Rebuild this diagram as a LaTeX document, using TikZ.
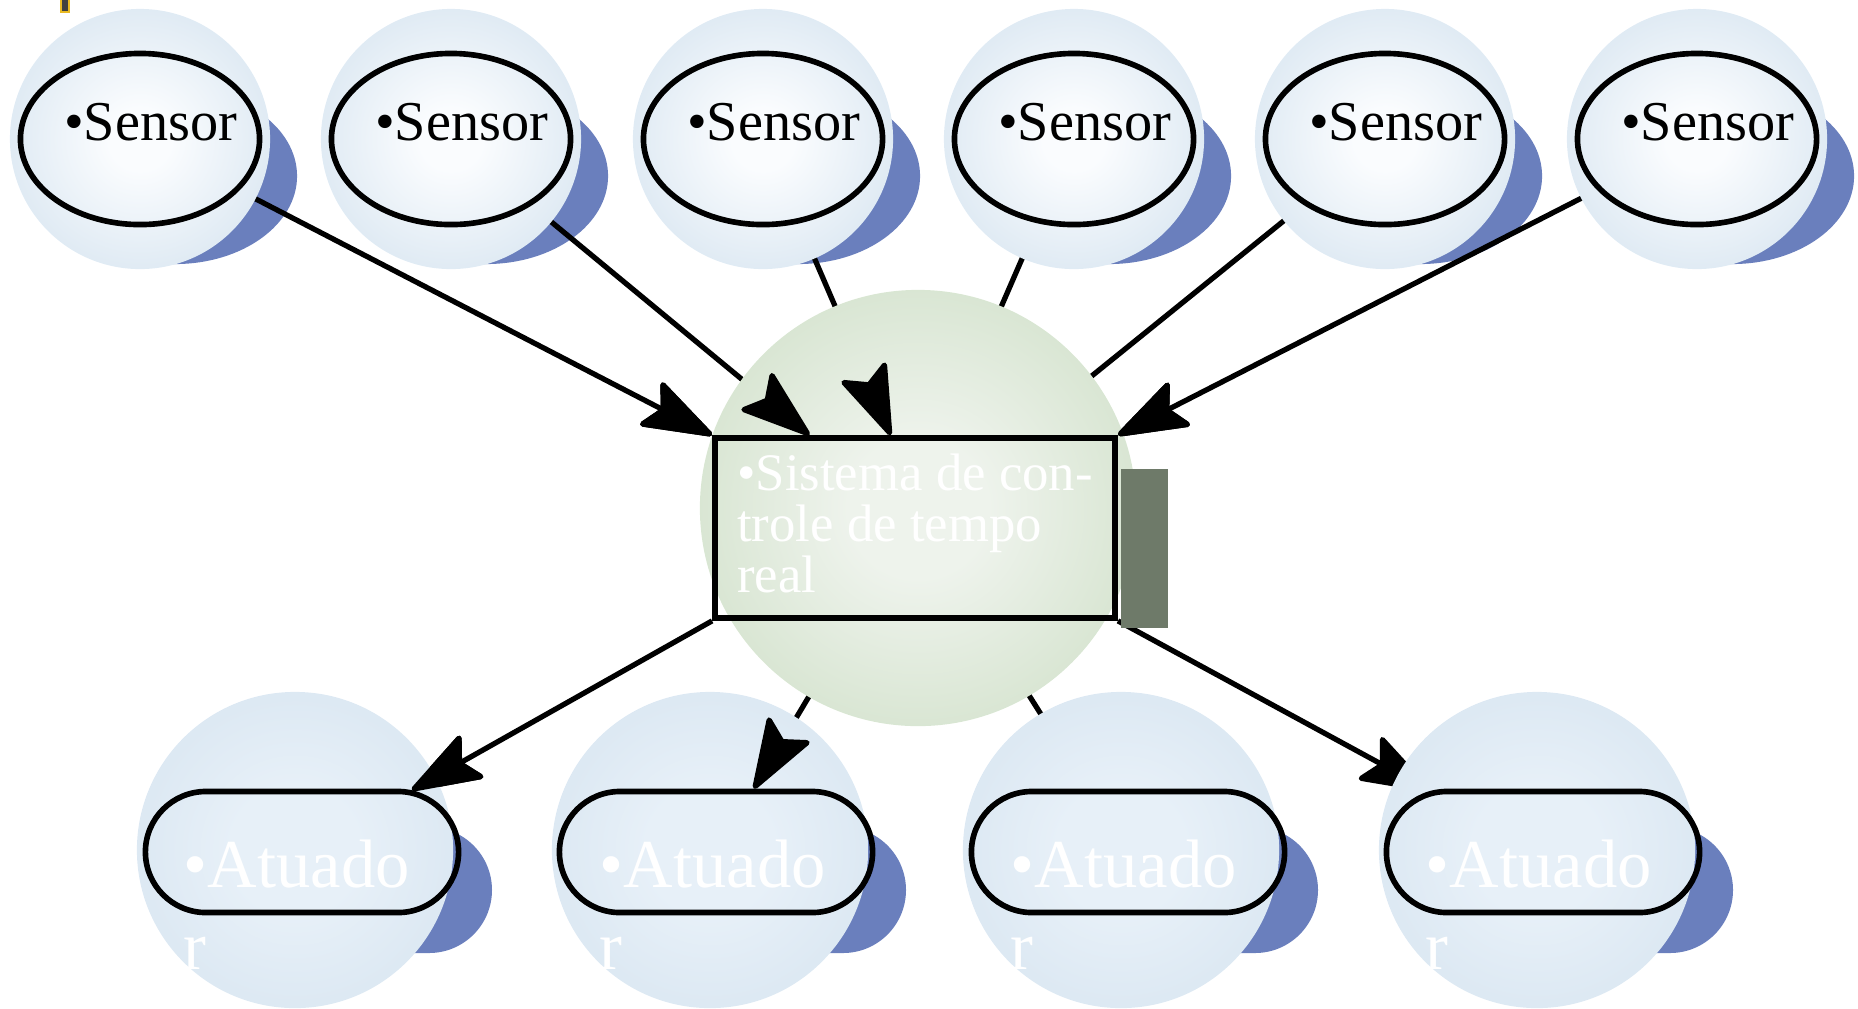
\documentclass[tikz,border=0pt]{standalone}
\usepackage{fontspec}
\setmainfont{Liberation Serif}
\usetikzlibrary{shapes.geometric,shapes.misc,arrows.meta,calc}

\definecolor{ballout}{HTML}{D9E6F1}
\definecolor{ballin}{HTML}{FAFCFE}
\definecolor{actin}{HTML}{E7F0F8}
\definecolor{greenout}{HTML}{D3E2CC}
\definecolor{greenin}{HTML}{EEF3EC}
\definecolor{shadowblue}{HTML}{6A7FBD}
\definecolor{boxshade}{HTML}{6E7A69}
\definecolor{goldmark}{HTML}{E8B923}

\pgfdeclareradialshading{sensorball}{\pgfpointorigin}{color(0bp)=(ballin); color(6bp)=(ballin); color(30bp)=(ballout); color(50bp)=(ballout)}
\pgfdeclareradialshading{actball}{\pgfpointorigin}{color(0bp)=(actin); color(10bp)=(actin); color(30bp)=(ballout); color(50bp)=(ballout)}
\pgfdeclareradialshading{ctrlball}{\pgfpointorigin}{color(0bp)=(greenin); color(8bp)=(greenin); color(30bp)=(greenout); color(50bp)=(greenout)}

\pgfdeclarelayer{shade}
\pgfdeclarelayer{lines}
\pgfdeclarelayer{tips}
\pgfsetlayers{shade,lines,main,tips}

\newcommand{\sensortext}[1]{\makebox[0pt]{\hspace*{6pt}#1}}

\begin{document}
\begin{tikzpicture}[x=0.01cm, y=-0.01cm,
  sensorbg/.style={circle, minimum size=2.6cm, inner sep=0pt, shading=sensorball},
  actbg/.style={circle, minimum size=3.16cm, inner sep=0pt, shading=actball},
  ctrlbg/.style={circle, minimum size=4.36cm, inner sep=0pt, shading=ctrlball},
  sensor/.style={ellipse, draw, line width=1.6pt, minimum width=2.39cm, minimum height=1.71cm,
    inner sep=0pt, font=\fontsize{16}{19}\selectfont, text height=11pt, text depth=10pt},
  actuator/.style={rounded rectangle, draw, line width=1.6pt, minimum width=3.13cm,
    minimum height=1.21cm, inner sep=0pt},
  acttext/.style={anchor=north west, inner sep=0pt, align=left, text=white,
    font=\fontsize{19.5}{23.3}\selectfont},
  ctrl/.style={draw, line width=1.6pt, minimum width=4cm, minimum height=1.8cm,
    inner sep=0pt, align=left, text=white, text depth=3pt, font=\fontsize{15}{14.5}\selectfont},
  conn/.style={line width=1.5pt, -{Stealth[length=22pt, width=15pt, inset=4pt, round]}},
  head/.style={line width=0.05pt, -{Stealth[length=22pt, width=15pt, inset=4pt, round, line width=1.5pt]}},
]
\useasboundingbox (0,0) rectangle (1858,1008);
\draw[draw=goldmark, fill=black!75, line width=0.6pt] (61,-4) rectangle (69,12);

% background balls
\node[sensorbg] (s1bg) at (140,139) {};
\node[sensorbg] (s2bg) at (451,139) {};
\node[sensorbg] (s3bg) at (763,139) {};
\node[sensorbg] (s4bg) at (1074,139) {};
\node[sensorbg] (s5bg) at (1385,139) {};
\node[sensorbg] (s6bg) at (1697,139) {};
\node[ctrlbg] (cbg) at (918,508) {};
\node[actbg] (a1bg) at (295,850) {};
\node[actbg] (a2bg) at (710,850) {};
\node[actbg] (a3bg) at (1121,850) {};
\node[actbg] (a4bg) at (1537,850) {};

% control system
\node[ctrl] (box) at (915,528) {•Sistema de con-\\trole de tempo\\real};
\fill[boxshade] ($(box.north east)+(3,34)$) rectangle ($(box.south east)+(50,7)$);

% sensors
\node[sensor] (s1) at (140,139) {\sensortext{•Sensor}};
\node[sensor] (s2) at (451,139) {\sensortext{•Sensor}};
\node[sensor] (s3) at (763,139) {\sensortext{•Sensor}};
\node[sensor] (s4) at (1074,139) {\sensortext{•Sensor}};
\node[sensor] (s5) at (1385,139) {\sensortext{•Sensor}};
\node[sensor] (s6) at (1697,139) {\sensortext{•Sensor}};

% actuators
\node[actuator] (a1) at (302,852) {};
\node[actuator] (a2) at (716,852) {};
\node[actuator] (a3) at (1128,852) {};
\node[actuator] (a4) at (1543,852) {};
\node[acttext] (a1t) at ($(a1)+(-119,-13)$) {•Atuado\\r};
\node[acttext] (a2t) at ($(a2)+(-117,-13)$) {•Atuado\\r};
\node[acttext] (a3t) at ($(a3)+(-118,-13)$) {•Atuado\\r};
\node[acttext] (a4t) at ($(a4)+(-118,-13)$) {•Atuado\\r};

% attach points on the box
\coordinate (b1) at (box.north west);
\coordinate (b2) at ($(box.north west)!.24!(box.north east)$);
\coordinate (b3) at ($(box.north west)!.44!(box.north east)$);
\coordinate (b4) at ($(box.north west)!.575!(box.north east)$);
\coordinate (b5) at ($(box.north west)!.755!(box.north east)$);
\coordinate (b6) at (box.north east);
\coordinate (c1) at (box.south west);
\coordinate (c2) at ($(box.south west)!.35!(box.south east)$);
\coordinate (c3) at ($(box.south west)!.665!(box.south east)$);
\coordinate (c4) at (box.south east);

% shadows
\begin{pgfonlayer}{shade}
\fill[shadowblue] ($(s1)+(35,37)$) ellipse [x radius=1.22cm, y radius=0.88cm];
\fill[shadowblue] ($(s2)+(35,37)$) ellipse [x radius=1.22cm, y radius=0.88cm];
\fill[shadowblue] ($(s3)+(35,37)$) ellipse [x radius=1.22cm, y radius=0.88cm];
\fill[shadowblue] ($(s4)+(35,37)$) ellipse [x radius=1.22cm, y radius=0.88cm];
\fill[shadowblue] ($(s5)+(35,37)$) ellipse [x radius=1.22cm, y radius=0.88cm];
\fill[shadowblue] ($(s6)+(35,37)$) ellipse [x radius=1.22cm, y radius=0.88cm];
\fill[shadowblue, rounded corners=0.63cm] ($(a1)+(-128,-25)$) rectangle ($(a1)+(190,101)$);
\fill[shadowblue, rounded corners=0.63cm] ($(a2)+(-128,-25)$) rectangle ($(a2)+(190,101)$);
\fill[shadowblue, rounded corners=0.63cm] ($(a3)+(-128,-25)$) rectangle ($(a3)+(190,101)$);
\fill[shadowblue, rounded corners=0.63cm] ($(a4)+(-128,-25)$) rectangle ($(a4)+(190,101)$);
\end{pgfonlayer}

% connectors
\begin{pgfonlayer}{lines}
\draw[conn] (s1) -- (b1);
\draw[conn] (s2) -- (b2);
\draw[conn] (s3) -- (b3);
\draw[conn] (s4) -- (b4);
\draw[conn] (s5) -- (b5);
\draw[conn] (s6) -- (b6);
\draw[conn] (c1) -- (a1);
\draw[conn] (c2) -- (a2);
\draw[conn] (c3) -- (a3);
\draw[conn] (c4) -- (a4);
\end{pgfonlayer}

% heads that sit on top
\path (c1) -- coordinate[pos=1] (e1) (a1);
\path (c2) -- coordinate[pos=1] (e2) (a2);
\begin{pgfonlayer}{tips}
\draw[head] ($(b1)!16pt!(s1)$) -- (b1);
\draw[head] ($(b2)!16pt!(s2)$) -- (b2);
\draw[head] ($(b3)!16pt!(s3)$) -- (b3);
\draw[head] ($(b6)!16pt!(s6)$) -- (b6);
\draw[head] ($(e1)!16pt!(c1)$) -- (e1);
\draw[head] ($(e2)!16pt!(c2)$) -- (e2);
\end{pgfonlayer}
\end{tikzpicture}
\end{document}
